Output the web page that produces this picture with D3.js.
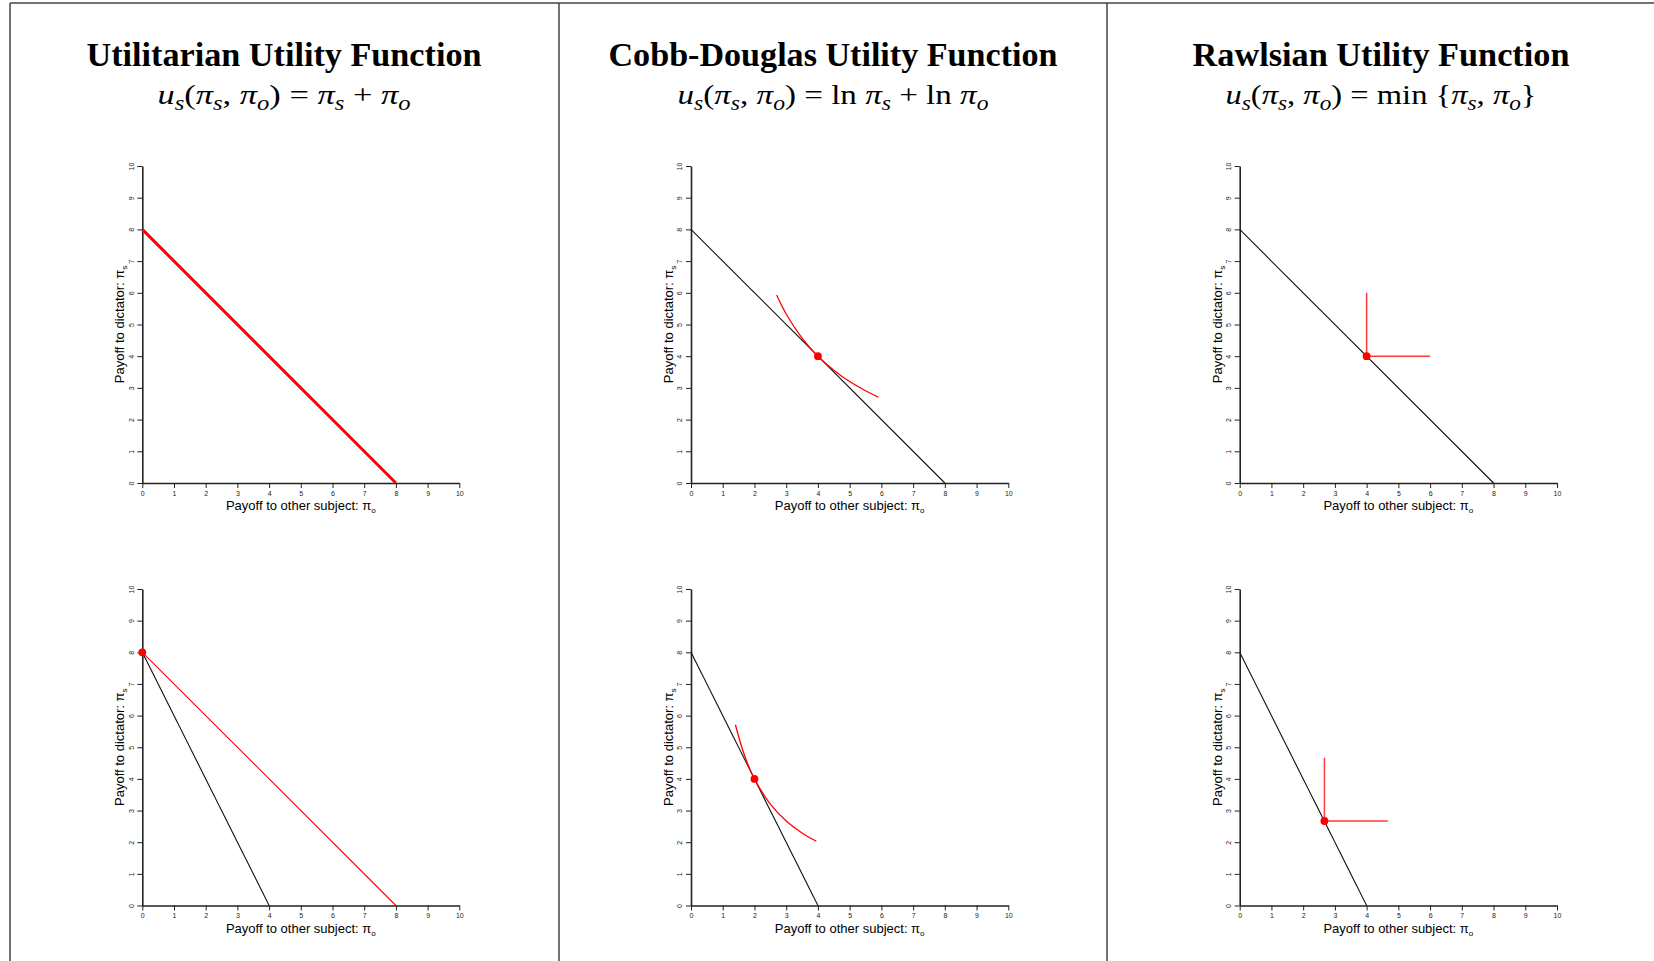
<!DOCTYPE html>
<html lang='en'>
<head>
   <meta charset='UTF-8'>
   <title>Utility functions - dictator game</title>
   <script src='https://d3js.org/d3.v7.min.js'></script>
   <style>
      body { margin: 0; background: #fff; }
      svg { display: block; }
      .tick text { font-family: 'Liberation Sans', Arial, sans-serif; }
   </style>
</head>
<body>
   <div id='chart'></div>
   <script>
      // ---- data ----
      const tickValues = [0, 1, 2, 3, 4, 5, 6, 7, 8, 9, 10];
      const titles = ['Utilitarian Utility Function', 'Cobb-Douglas Utility Function', 'Rawlsian Utility Function'];

      // budget lines (pi_o, pi_s)
      const budgetTop = [[0, 8], [8, 0]];
      const budgetBottom = [[0, 8], [4, 0]];

      // indifference curves
      const cdCurveTop = [[2.7, 5.93], [3, 5.33], [3.5, 4.57], [4, 4], [4.5, 3.56], [5, 3.2], [5.5, 2.91], [5.9, 2.71]];
      const cdCurveBottom = [[1.4, 5.71], [1.6, 5], [1.8, 4.44], [2, 4], [2.5, 3.2], [3, 2.67], [3.5, 2.29], [3.95, 2.03]];
      const rawlsTop = [[4, 6], [4, 4], [6, 4]];
      const rawlsBottom = [[2.67, 4.67], [2.67, 2.67], [4.67, 2.67]];
      const utilBottom = [[0, 8], [8, 0]];

      // chosen points
      const optCD = [[4, 4], [2, 4]];
      const optRawls = [[4, 4], [2.67, 2.67]];
      const optUtilBottom = [0, 8];

      // formulas: [text, style]  style: i = italic, s = subscript, '' = upright
      const formulaUtil = [['u', 'i'], ['s', 's'], ['(', ''], ['π', 'i'], ['s', 's'], [', ', ''], ['π', 'i'], ['o', 's'],
         [') = ', ''], ['π', 'i'], ['s', 's'], [' + ', ''], ['π', 'i'], ['o', 's']];
      const formulaCD = [['u', 'i'], ['s', 's'], ['(', ''], ['π', 'i'], ['s', 's'], [', ', ''], ['π', 'i'], ['o', 's'],
         [') = ln ', ''], ['π', 'i'], ['s', 's'], [' + ln ', ''], ['π', 'i'], ['o', 's']];
      const formulaRawls = [['u', 'i'], ['s', 's'], ['(', ''], ['π', 'i'], ['s', 's'], [', ', ''], ['π', 'i'], ['o', 's'],
         [') = min {', ''], ['π', 'i'], ['s', 's'], [', ', ''], ['π', 'i'], ['o', 's'], ['}', '']];

      // ---- layout ----
      const W = 1654, H = 961;
      const colCenters = [284, 833, 1381];
      const colX = [[142.3, 459.3], [691, 1008.3], [1239.7, 1557]];
      const rowY = [[483, 166], [905.5, 589]];
      const titleWidths = [395, 449, 377];
      const formulaWidths = [253, 311, 311];
      const formulas = [formulaUtil, formulaCD, formulaRawls];

      const svg = d3.select('#chart').append('svg').attr('width', W).attr('height', H);

      // frame
      const frame = svg.append('g').attr('stroke', '#444').attr('stroke-width', 1.5);
      frame.append('line').attr('x1', 10).attr('x2', W).attr('y1', 3).attr('y2', 3);
      [10, 559, 1107].forEach(x => {
         frame.append('line').attr('x1', x).attr('x2', x).attr('y1', 3).attr('y2', H);
      });

      // titles + formulas
      titles.forEach((t, i) => {
         svg.append('text')
            .attr('x', colCenters[i]).attr('y', 66)
            .attr('text-anchor', 'middle')
            .attr('font-family', "'Liberation Serif', 'Times New Roman', serif")
            .attr('font-weight', 'bold')
            .attr('font-size', 33)
            .attr('textLength', titleWidths[i])
            .attr('lengthAdjust', 'spacingAndGlyphs')
            .text(t);

         const f = svg.append('text')
            .attr('x', colCenters[i]).attr('y', 104)
            .attr('text-anchor', 'middle')
            .attr('font-family', "'Liberation Serif', 'Times New Roman', serif")
            .attr('font-size', 28)
            .attr('textLength', formulaWidths[i])
            .attr('lengthAdjust', 'spacingAndGlyphs');
         let down = false;
         formulas[i].forEach(([txt, st]) => {
            const ts = f.append('tspan').text(txt);
            if (st === 's') {
               ts.attr('font-style', 'italic').attr('font-size', 20).attr('dy', down ? 0 : 6);
               down = true;
            } else {
               if (st === 'i') ts.attr('font-style', 'italic');
               if (down) ts.attr('dy', -6);
               down = false;
            }
         });
      });

      const drawPanel = (row, col, draw) => {
         const x = d3.scaleLinear().domain([0, 10]).range(colX[col]);
         const y = d3.scaleLinear().domain([0, 10]).range(rowY[row]);
         const g = svg.append('g');

         const xAxis = g.append('g')
            .attr('transform', `translate(0, ${y(0)})`)
            .call(d3.axisBottom(x).tickValues(tickValues).tickSize(5).tickSizeOuter(0).tickPadding(3));
         const yAxis = g.append('g')
            .attr('transform', `translate(${x(0)}, 0)`)
            .call(d3.axisLeft(y).tickValues(tickValues).tickSize(5).tickSizeOuter(0));
         [xAxis, yAxis].forEach(a => {
            a.select('.domain').attr('stroke', '#222').attr('stroke-width', 1.6);
            a.selectAll('.tick line').attr('stroke', '#222');
            a.selectAll('.tick text').attr('font-size', 7).attr('fill', '#222');
         });
         yAxis.selectAll('.tick text')
            .attr('x', null).attr('dy', '0.35em')
            .attr('text-anchor', 'middle')
            .attr('transform', 'translate(-11,0) rotate(-90)');

         const lbl = g.append('text')
            .attr('x', (colX[col][0] + colX[col][1]) / 2).attr('y', y(0) + 27)
            .attr('text-anchor', 'middle')
            .attr('font-family', "'Liberation Sans', Arial, sans-serif")
            .attr('font-size', 13);
         lbl.append('tspan').text('Payoff to other subject: π');
         lbl.append('tspan').text('o').attr('font-size', 8).attr('dy', 3);

         const ylbl = g.append('text')
            .attr('transform', `translate(${x(0) - 18}, ${(rowY[row][0] + rowY[row][1]) / 2}) rotate(-90)`)
            .attr('text-anchor', 'middle')
            .attr('font-family', "'Liberation Sans', Arial, sans-serif")
            .attr('font-size', 13);
         ylbl.append('tspan').text('Payoff to dictator: π');
         ylbl.append('tspan').text('s').attr('font-size', 8).attr('dy', 3);

         const line = d3.line().x(d => x(d[0])).y(d => y(d[1]));
         const path = (data, color, w, curve) => g.append('path')
            .datum(data)
            .attr('fill', 'none')
            .attr('stroke', color)
            .attr('stroke-width', w)
            .attr('d', line.curve(curve || d3.curveLinear)(data));
         const dot = (p) => g.append('circle')
            .attr('cx', x(p[0])).attr('cy', y(p[1])).attr('r', 3.9).attr('fill', '#ff0000');
         draw({ path, dot });
      };

      // top row
      drawPanel(0, 0, ({ path }) => {
         path(budgetTop, '#ff0000', 3);
      });
      drawPanel(0, 1, ({ path, dot }) => {
         path(budgetTop, '#111', 1.1);
         path(cdCurveTop, '#ff0000', 1.3, d3.curveCatmullRom);
         dot(optCD[0]);
      });
      drawPanel(0, 2, ({ path, dot }) => {
         path(budgetTop, '#111', 1.1);
         path(rawlsTop, '#ff3b3b', 1.5);
         dot(optRawls[0]);
      });

      // bottom row
      drawPanel(1, 0, ({ path, dot }) => {
         path(budgetBottom, '#111', 1.1);
         path(utilBottom, '#ff0000', 1.1);
         dot(optUtilBottom);
      });
      drawPanel(1, 1, ({ path, dot }) => {
         path(budgetBottom, '#111', 1.1);
         path(cdCurveBottom, '#ff0000', 1.3, d3.curveCatmullRom);
         dot(optCD[1]);
      });
      drawPanel(1, 2, ({ path, dot }) => {
         path(budgetBottom, '#111', 1.1);
         path(rawlsBottom, '#ff3b3b', 1.5);
         dot(optRawls[1]);
      });
   </script>
</body>
</html>
